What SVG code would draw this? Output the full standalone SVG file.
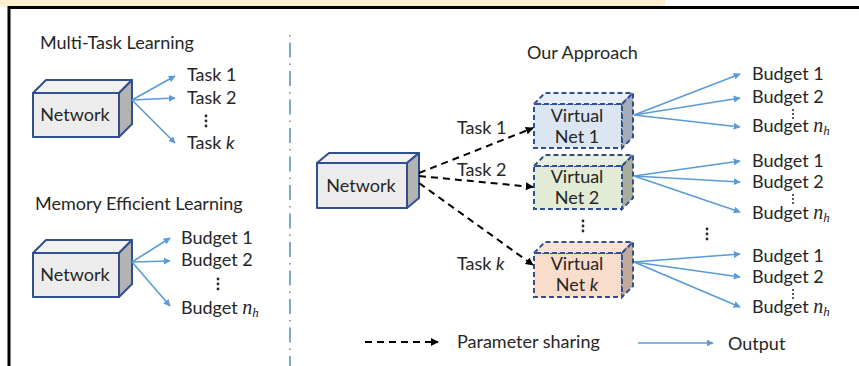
<svg xmlns="http://www.w3.org/2000/svg" width="859" height="366" viewBox="0 0 859 366">
<defs>
<marker id="ab" viewBox="0 0 10 10" refX="9" refY="5" markerWidth="7" markerHeight="7" markerUnits="userSpaceOnUse" orient="auto"><path d="M0,0 L10,5 L0,10 Z" fill="#5b9bd5"/></marker>
<marker id="ak" viewBox="0 0 10 10" refX="9" refY="5" markerWidth="8" markerHeight="8" markerUnits="userSpaceOnUse" orient="auto"><path d="M0,0 L10,5 L0,10 Z" fill="#000"/></marker>
</defs>
<style>
text{font-family:Lato,"Open Sans","Liberation Sans",sans-serif;font-size:18px;fill:#262626}
.m{font-family:"Liberation Serif","DejaVu Serif",serif;font-style:italic;font-size:20px}
.s{font-size:13px}
.it{font-style:italic}
.solid{stroke:#2f4f8f;stroke-width:2;stroke-linejoin:round}
.dash{stroke:#2f4f8f;stroke-width:2;stroke-dasharray:5 3}
.blue{stroke:#5b9bd5;stroke-width:1.6;fill:none}
.blk{stroke:#000;stroke-width:2;fill:none;stroke-dasharray:7 5}
.dot{fill:#262626}
</style>
<rect x="0" y="0" width="859" height="366" fill="#fff"/>
<rect x="0" y="0" width="665" height="6.5" fill="#fdefcf"/>
<line x1="8" y1="7.5" x2="859" y2="7.5" stroke="#000" stroke-width="3"/>
<line x1="9" y1="6" x2="9" y2="366" stroke="#000" stroke-width="3"/>
<line x1="290" y1="35" x2="290" y2="366" stroke="#7fa6d4" stroke-width="2" stroke-dasharray="1.5 6 15 6"/>

<text x="40" y="49">Multi-Task Learning</text>
<text x="35" y="210">Memory Efficient Learning</text>
<text x="527" y="59">Our Approach</text>

<g id="net1">
<rect x="33" y="93" width="86" height="44" fill="#ececec" class="solid"/>
<polygon points="33,93 46,80 132,80 119,93" fill="#f2f2f2" class="solid"/>
<polygon points="119,93 132,80 132,124 119,137" fill="#b3b3b3" class="solid"/>
<text x="75" y="121" text-anchor="middle">Network</text>
</g>
<g id="net2">
<rect x="33" y="253" width="86" height="44" fill="#ececec" class="solid"/>
<polygon points="33,253 46,240 132,240 119,253" fill="#f2f2f2" class="solid"/>
<polygon points="119,253 132,240 132,284 119,297" fill="#b3b3b3" class="solid"/>
<text x="75" y="281" text-anchor="middle">Network</text>
</g>
<g id="net3">
<rect x="317" y="163" width="90" height="45" fill="#ececec" class="solid"/>
<polygon points="317,163 329,153 419,153 407,163" fill="#f2f2f2" class="solid"/>
<polygon points="407,163 419,153 419,198 407,208" fill="#b3b3b3" class="solid"/>
<text x="361" y="192" text-anchor="middle">Network</text>
</g>
<g id="vnet1">
<rect x="534" y="104" width="88" height="44" fill="#dce6f2" class="dash"/>
<polygon points="534,104 545,93 633,93 622,104" fill="#e6edf6" class="dash"/>
<polygon points="622,104 633,93 633,137 622,148" fill="#a5acb9" class="dash"/>
<text x="577" y="122" text-anchor="middle">Virtual</text>
<text x="577" y="143" text-anchor="middle">Net 1</text>
</g>
<g id="vnet2">
<rect x="534" y="166" width="88" height="43" fill="#e2ebd4" class="dash"/>
<polygon points="534,166 545,155 633,155 622,166" fill="#e9efdf" class="dash"/>
<polygon points="622,166 633,155 633,198 622,209" fill="#a9ae9c" class="dash"/>
<text x="577" y="183" text-anchor="middle">Virtual</text>
<text x="577" y="204" text-anchor="middle">Net 2</text>
</g>
<g id="vnetk">
<rect x="534" y="253" width="88" height="44" fill="#f9dcc9" class="dash"/>
<polygon points="534,253 545,242 633,242 622,253" fill="#fae3d5" class="dash"/>
<polygon points="622,253 633,242 633,286 622,297" fill="#c2aa9c" class="dash"/>
<text x="577" y="270" text-anchor="middle">Virtual</text>
<text x="577" y="291" text-anchor="middle">Net <tspan class="it">k</tspan></text>
</g>

<g id="connectors">
<line x1="132" y1="100" x2="175" y2="76" class="blue" marker-end="url(#ab)"/>
<line x1="132" y1="100" x2="175" y2="98" class="blue" marker-end="url(#ab)"/>
<line x1="132" y1="100" x2="175" y2="143" class="blue" marker-end="url(#ab)"/>
<line x1="132" y1="262" x2="170" y2="238" class="blue" marker-end="url(#ab)"/>
<line x1="132" y1="262" x2="170" y2="261" class="blue" marker-end="url(#ab)"/>
<line x1="132" y1="262" x2="170" y2="306" class="blue" marker-end="url(#ab)"/>
<line x1="419" y1="173" x2="533" y2="128" class="blk" marker-end="url(#ak)"/>
<line x1="419" y1="176" x2="533" y2="187" class="blk" marker-end="url(#ak)"/>
<line x1="419" y1="183" x2="533" y2="265" class="blk" marker-end="url(#ak)"/>
<line x1="634" y1="115" x2="740" y2="74" class="blue" marker-end="url(#ab)"/>
<line x1="634" y1="115" x2="740" y2="98" class="blue" marker-end="url(#ab)"/>
<line x1="634" y1="115" x2="740" y2="127" class="blue" marker-end="url(#ab)"/>
<line x1="634" y1="176" x2="740" y2="161" class="blue" marker-end="url(#ab)"/>
<line x1="634" y1="176" x2="740" y2="182" class="blue" marker-end="url(#ab)"/>
<line x1="634" y1="176" x2="740" y2="212" class="blue" marker-end="url(#ab)"/>
<line x1="634" y1="262" x2="740" y2="254" class="blue" marker-end="url(#ab)"/>
<line x1="634" y1="262" x2="740" y2="277" class="blue" marker-end="url(#ab)"/>
<line x1="634" y1="262" x2="740" y2="307" class="blue" marker-end="url(#ab)"/>
<line x1="365" y1="342" x2="438" y2="342" class="blk" marker-end="url(#ak)"/>
<line x1="638" y1="343" x2="713" y2="343" class="blue" marker-end="url(#ab)"/>
</g>

<text x="187" y="81">Task 1</text>
<text x="187" y="104">Task 2</text>
<circle cx="206" cy="116" r="1.4" class="dot"/><circle cx="206" cy="121" r="1.4" class="dot"/><circle cx="206" cy="126" r="1.4" class="dot"/>
<text x="187" y="149">Task <tspan class="it">k</tspan></text>

<text x="181" y="244">Budget 1</text>
<text x="181" y="266">Budget 2</text>
<circle cx="218" cy="279" r="1.4" class="dot"/><circle cx="218" cy="284" r="1.4" class="dot"/><circle cx="218" cy="289" r="1.4" class="dot"/>
<text x="181" y="314">Budget <tspan class="m">n</tspan><tspan class="m s" dy="3">h</tspan></text>

<text x="457" y="134">Task 1</text>
<text x="457" y="176">Task 2</text>
<text x="457" y="270">Task <tspan class="it">k</tspan></text>
<circle cx="583" cy="221" r="1.4" class="dot"/><circle cx="583" cy="226" r="1.4" class="dot"/><circle cx="583" cy="231" r="1.4" class="dot"/>
<circle cx="707" cy="229" r="1.4" class="dot"/><circle cx="707" cy="234" r="1.4" class="dot"/><circle cx="707" cy="239" r="1.4" class="dot"/>

<text x="752" y="80">Budget 1</text>
<text x="752" y="103">Budget 2</text>
<circle cx="793" cy="110" r="1" class="dot"/><circle cx="793" cy="114" r="1" class="dot"/><circle cx="793" cy="118" r="1" class="dot"/>
<text x="752" y="132">Budget <tspan class="m">n</tspan><tspan class="m s" dy="3">h</tspan></text>

<text x="752" y="167">Budget 1</text>
<text x="752" y="188">Budget 2</text>
<circle cx="793" cy="195" r="1" class="dot"/><circle cx="793" cy="199" r="1" class="dot"/><circle cx="793" cy="203" r="1" class="dot"/>
<text x="752" y="219">Budget <tspan class="m">n</tspan><tspan class="m s" dy="3">h</tspan></text>

<text x="752" y="262">Budget 1</text>
<text x="752" y="283">Budget 2</text>
<circle cx="793" cy="290" r="1" class="dot"/><circle cx="793" cy="294" r="1" class="dot"/><circle cx="793" cy="298" r="1" class="dot"/>
<text x="752" y="313">Budget <tspan class="m">n</tspan><tspan class="m s" dy="3">h</tspan></text>

<text x="457" y="348">Parameter sharing</text>
<text x="728" y="350">Output</text>
</svg>
